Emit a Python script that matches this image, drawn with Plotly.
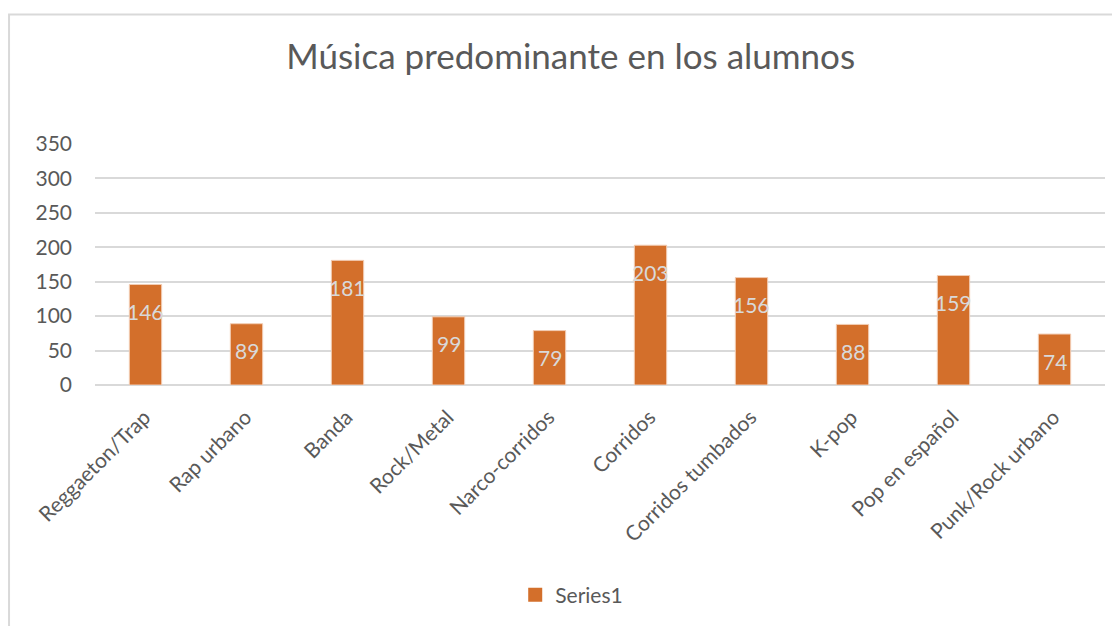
import plotly.graph_objects as go

genres = [
    "Reggaeton/Trap", "Rap urbano", "Banda", "Rock/Metal", "Narco-corridos",
    "Corridos", "Corridos tumbados", "K-pop", "Pop en español", "Punk/Rock urbano",
]
counts = [146, 89, 181, 99, 79, 203, 156, 88, 159, 74]
y_ticks = [0, 50, 100, 150, 200, 250, 300, 350]

FONT = "Lato"
GREY = "#595959"
ORANGE = "#D36F2B"

fig = go.Figure()
fig.add_trace(go.Bar(
    x=genres, y=counts, name="Series1", showlegend=False,
    marker=dict(color=ORANGE, line=dict(color="#F2CDB4", width=1)),
    width=0.32,
))
# legend entry with a bigger square swatch
fig.add_trace(go.Scatter(
    x=[None], y=[None], mode="markers", name="Series1",
    marker=dict(symbol="square", size=14, color=ORANGE),
))

# data labels sit inside the bar, a bit below the top (Excel style)
for g, v in zip(genres, counts):
    fig.add_annotation(x=g, y=v, text=str(v), showarrow=False, yshift=-27,
                       font=dict(family=FONT, size=21, color="#D9D9D9"))

# chart area border
fig.add_shape(type="rect", xref="paper", yref="paper",
              x0=-0.0851, x1=1.05, y0=-1.2, y1=1.537,
              line=dict(color="#D9D9D9", width=2), fillcolor="rgba(0,0,0,0)", layer="below")

# page body has an 8px margin, so the figure is 8px smaller than the window
fig.update_layout(
    width=1112, height=618,
    margin=dict(l=87, r=15, t=136, b=240),
    paper_bgcolor="white", plot_bgcolor="white",
    font=dict(family=FONT, color=GREY, size=21),
    title=dict(text="Música predominante en los alumnos", xref="paper", x=0.471, xanchor="center",
               yref="container", y=1 - 49 / 618, yanchor="middle",
               font=dict(family=FONT, size=35, color=GREY)),
    showlegend=True,
    legend=dict(orientation="h", xref="paper", x=0.472, xanchor="center", y=-0.864, yanchor="middle",
                font=dict(family=FONT, size=21, color=GREY), itemwidth=30),
)
fig.update_xaxes(tickangle=-45, showgrid=False, showline=False, ticks="",
                 ticklabelstandoff=15, ticklabelshift=-1,
                 tickfont=dict(family=FONT, size=21, color=GREY))
fig.update_yaxes(range=[0, 350], tickvals=y_ticks, showgrid=True, gridcolor="#D9D9D9", gridwidth=1.5,
                 zeroline=True, zerolinecolor="#D9D9D9", zerolinewidth=1.5, showline=False, ticks="",
                 ticklabelstandoff=22, tickfont=dict(family=FONT, size=21, color=GREY))

fig.write_html("out.html")
